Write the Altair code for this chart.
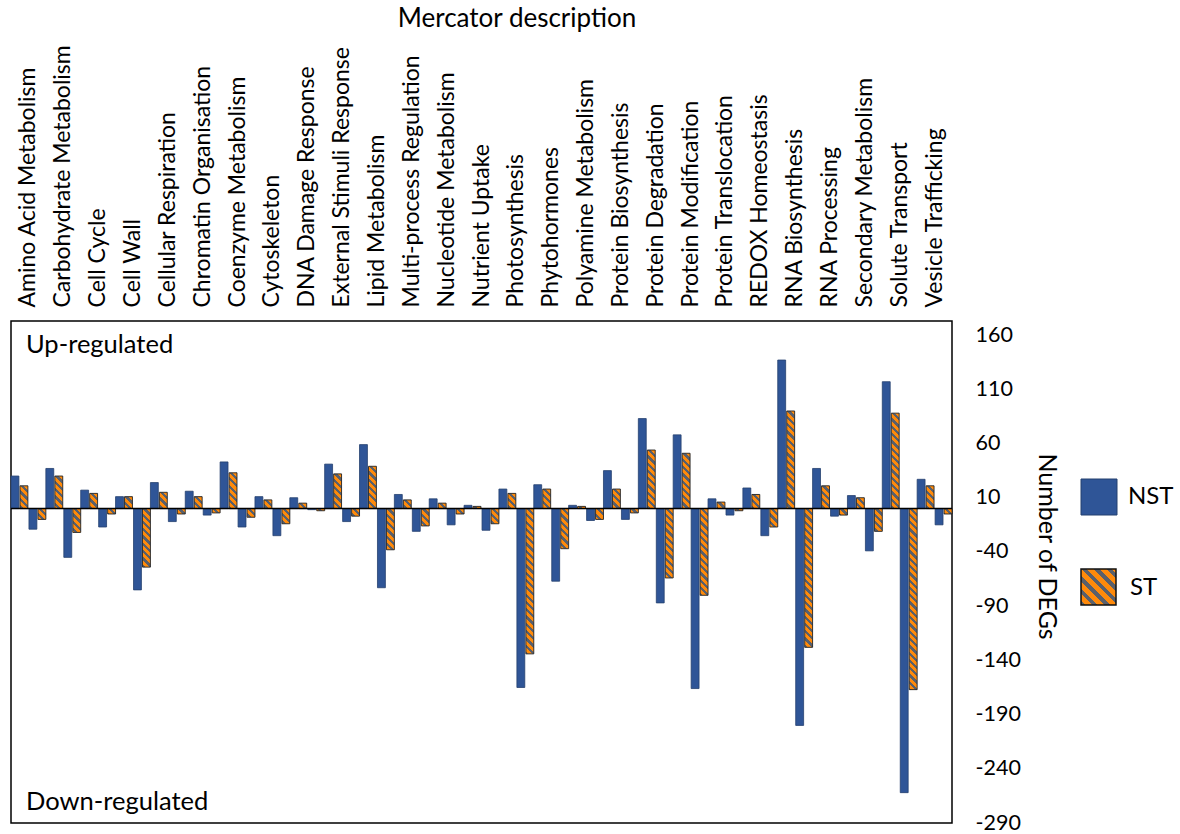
import math
import altair as alt

# ---------------- data ----------------
categories = [
    "Amino Acid Metabolism", "Carbohydrate Metabolism", "Cell Cycle", "Cell Wall",
    "Cellular Respiration", "Chromatin Organisation", "Coenzyme Metabolism", "Cytoskeleton",
    "DNA Damage Response", "External Stimuli Response", "Lipid Metabolism",
    "Multi-process Regulation", "Nucleotide Metabolism", "Nutrient Uptake", "Photosynthesis",
    "Phytohormones", "Polyamine Metabolism", "Protein Biosynthesis", "Protein Degradation",
    "Protein Modification", "Protein Translocation", "REDOX Homeostasis", "RNA Biosynthesis",
    "RNA Processing", "Secondary Metabolism", "Solute Transport", "Vesicle Trafficking",
]
nst_up = [30, 37, 17, 11, 24, 16, 43, 11, 10, 41, 59, 13, 9, 3, 18, 22, 3, 35, 83, 68, 9, 19, 137, 37, 12, 117, 27]
st_up = [21, 30, 14, 11, 15, 11, 33, 8, 5, 32, 39, 8, 5, 2, 14, 18, 2, 18, 54, 51, 6, 13, 90, 21, 10, 88, 21]
nst_down = [-19, -45, -17, -75, -12, -6, -17, -25, -1, -12, -73, -21, -15, -20, -165, -67, -11, -10, -87, -166, -6, -25, -200, -7, -39, -262, -15]
st_down = [-10, -22, -5, -54, -5, -4, -8, -14, -2, -7, -38, -16, -5, -14, -134, -37, -10, -4, -64, -80, -2, -17, -128, -6, -21, -167, -5]
y_ticks = [160, 110, 60, 10, -40, -90, -140, -190, -240, -290]
slots = ["NST_up", "ST_up", "NST_down", "ST_down"]

# ---------------- layout / style ----------------
W, H = 941, 502
Y_MIN, Y_MAX = -290, 173
PX_PER_UNIT = H / (Y_MAX - Y_MIN)
PAD_IN = 0.12
cat_step = W / len(categories)
sub_step = cat_step / (len(slots) - PAD_IN)
BAR_W = sub_step * (1 - PAD_IN)

FONT = "Lato"
BLUE = "#2F5597"
BLUE_EDGE = "#25406f"
ORANGE = "#FF8A0A"
STRIPE = "#5A606B"


def hatch(w, h, period, frac=0.45):
    """Linear gradient (bbox units) that imitates a '\\' diagonal hatch."""
    L = w + h
    stops = [{"offset": 0, "color": ORANGE}]
    m = math.floor(-h / period) - 1
    while m * period < w + period:
        a = (m * period + h) / L
        b = (m * period + frac * period + h) / L
        a2, b2 = min(max(a, 0), 1), min(max(b, 0), 1)
        if b2 > a2:
            stops += [
                {"offset": a2, "color": ORANGE},
                {"offset": a2, "color": STRIPE},
                {"offset": b2, "color": STRIPE},
                {"offset": b2, "color": ORANGE},
            ]
        m += 1
    stops.append({"offset": 1, "color": ORANGE})
    den = w * w + h * h
    return {"gradient": "linear", "x1": 0, "y1": 1,
            "x2": w * L / den, "y2": 1 - h * L / den, "stops": stops}


nst_rows, st_rows = [], []
for i, c in enumerate(categories):
    nst_rows.append({"cat": c, "slot": "NST_up", "v": nst_up[i]})
    nst_rows.append({"cat": c, "slot": "NST_down", "v": nst_down[i]})
    for slot, v in (("ST_up", st_up[i]), ("ST_down", st_down[i])):
        h = max(abs(v) * PX_PER_UNIT, 0.5)
        st_rows.append({"cat": c, "slot": slot, "v": v, "grad": hatch(BAR_W, h, 7.3)})

x_enc = alt.X(
    "cat:N", sort=categories,
    scale=alt.Scale(domain=categories, paddingInner=0, paddingOuter=0),
    axis=alt.Axis(
        orient="top", labelAngle=270, labelPadding=14, ticks=False, domain=False,
        labelFont=FONT, labelFontSize=23, labelColor="black", labelLimit=400,
        labelOverlap=False,
        title="Mercator description", titleFont=FONT, titleFontSize=26,
        titleFontWeight="normal", titleColor="black",
        titleX=505.5, titleY=-303, titleAlign="center", titleBaseline="middle",
    ),
)
xo_enc = alt.XOffset(
    "slot:N", sort=slots,
    scale=alt.Scale(domain=slots, paddingInner=PAD_IN, paddingOuter=0),
)
y_enc = alt.Y(
    "v:Q",
    scale=alt.Scale(domain=[Y_MIN, Y_MAX], nice=False, zero=False),
    axis=alt.Axis(
        orient="right", values=y_ticks, ticks=False, domain=False, grid=False,
        labelExpr="'' + datum.value",
        labelPadding=23, labelFont=FONT, labelFontSize=21.5, labelColor="black",
        labelOverlap=False, labelAlign="left",
        title="Number of DEGs", titleFont=FONT, titleFontSize=25,
        titleFontWeight="normal", titleColor="black", titleAngle=90,
        titleX=94, titleY=225, titleAlign="center", titleBaseline="middle",
    ),
)

nst_layer = alt.Chart(alt.Data(values=nst_rows)).mark_bar(
    color=BLUE, stroke=BLUE_EDGE, strokeWidth=0.8
).encode(x=x_enc, xOffset=xo_enc, y=y_enc)

st_layer = alt.Chart(alt.Data(values=st_rows)).mark_bar(
    stroke="#222222", strokeWidth=0.9
).encode(
    x=x_enc, xOffset=xo_enc, y=y_enc,
    fill=alt.Fill("grad:N", scale=None, legend=None),
)

zero_rule = alt.Chart(alt.Data(values=[{"z": 0}])).mark_rule(
    color="black", strokeWidth=1.5
).encode(y=alt.Y("z:Q"))

one = alt.Data(values=[{}])
up_txt = alt.Chart(one).mark_text(
    align="left", baseline="middle", font=FONT, fontSize=25.5, color="black"
).encode(x=alt.value(15), y=alt.value(24), text=alt.value("Up-regulated"))
down_txt = alt.Chart(one).mark_text(
    align="left", baseline="middle", font=FONT, fontSize=25.5, color="black"
).encode(x=alt.value(15), y=alt.value(481), text=alt.value("Down-regulated"))

# legend (drawn by hand so the hatch can be shown)
leg_nst = alt.Chart(one).mark_rect(stroke=BLUE_EDGE, strokeWidth=1).encode(
    x=alt.value(1070), x2=alt.value(1106), y=alt.value(158), y2=alt.value(194),
    fill=alt.value(BLUE),
)
leg_st = alt.Chart(one).mark_rect(stroke="#111111", strokeWidth=1.5).encode(
    x=alt.value(1070), x2=alt.value(1105), y=alt.value(248), y2=alt.value(284),
    fill=alt.value(hatch(35, 36, 12.5)),
)
leg_nst_txt = alt.Chart(one).mark_text(
    align="left", baseline="middle", font=FONT, fontSize=24, color="black"
).encode(x=alt.value(1117), y=alt.value(176), text=alt.value("NST"))
leg_st_txt = alt.Chart(one).mark_text(
    align="left", baseline="middle", font=FONT, fontSize=24, color="black"
).encode(x=alt.value(1119), y=alt.value(267), text=alt.value("ST"))

chart = alt.layer(
    nst_layer, st_layer, zero_rule, up_txt, down_txt,
    leg_nst, leg_st, leg_nst_txt, leg_st_txt,
).properties(
    width=W, height=H,
    autosize=alt.AutoSizeParams(type="none"),
    padding={"left": 11, "top": 321, "right": 228, "bottom": 11},
    background="white",
).configure_view(
    stroke="black", strokeWidth=1.5
)

chart.save("out.html", embed_options={"renderer": "svg", "actions": False})
